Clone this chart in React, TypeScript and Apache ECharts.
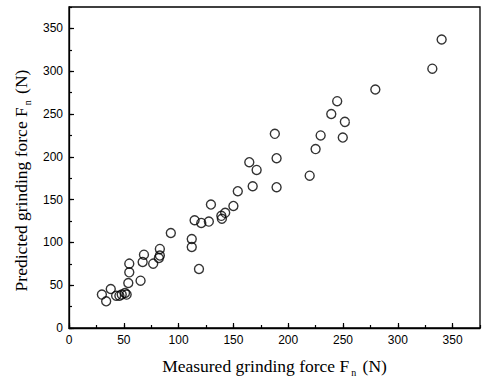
import React, { useEffect, useRef } from "react";
import * as echarts from "echarts";

const measured = [340, 331.5, 279.5, 244.7, 239.3, 251.7, 229.6, 249.8, 225, 219.6, 187.8, 189.4, 189.4, 164.5, 171.2, 167.6, 154, 150, 129.5, 142.5, 139, 139.5, 127.6, 120.7, 114.6, 92.9, 112, 112, 118.6, 82.9, 82.9, 82, 76.8, 68.4, 67.2, 65.3, 55, 55, 54.1, 51.1, 52.6, 48.1, 38.1, 30, 33.9, 43, 46];
const predicted = [337, 303, 278.6, 265, 250, 240.8, 225, 222.5, 209, 178, 226.8, 198.4, 164.5, 193.7, 184.7, 165.6, 159.8, 142.6, 144.2, 134.5, 131, 127.6, 124.3, 122.8, 125.9, 111, 104, 94.7, 69, 92.4, 84.6, 81.8, 75.2, 85.7, 77.2, 55.3, 75.2, 65, 52.6, 40.9, 39, 39, 45.6, 39, 31.2, 37.8, 37.8];

const axisMin = 0;
const axisMax = 375;
const majorStep = 50;
const minorStep = 25;

const xTitle = "{t|Measured grinding force F}{s|n}{t| (N)}";
const yTitle = "{t|Predicted grinding force F}{s|n}{t| (N)}";

export default function App() {
  const ref = useRef<HTMLDivElement>(null);
  useEffect(() => {
    const chart = echarts.init(ref.current!, null, { renderer: "svg" });
    const richStyle = {
      t: { fontFamily: "Liberation Serif", fontSize: 17.5, color: "#000", lineHeight: 22 },
      s: { fontFamily: "Liberation Serif", fontSize: 10, color: "#000", lineHeight: 10, padding: [12, 2, 0, 2] },
    };
    const labelStyle = { fontFamily: "Liberation Sans", fontSize: 12, color: "#000" };
    const mainAxis = (isX: boolean, name: string) => ({
      type: "value",
      min: axisMin,
      max: axisMax,
      interval: majorStep,
      position: isX ? "bottom" : "left",
      name,
      nameLocation: "middle",
      nameGap: isX ? 27 : 36,
      nameTextStyle: { rich: richStyle, padding: isX ? 0 : [0, 26, 0, 0] },
      axisLine: { show: true, onZero: false, lineStyle: { color: "#000", width: 1.3 } },
      axisTick: { show: true, inside: true, length: 5, lineStyle: { color: "#000", width: 1.2 } },
      axisLabel: { ...labelStyle, margin: 6, showMaxLabel: false },
      splitLine: { show: false },
    });
    const minorAxis = (isX: boolean) => ({
      type: "value",
      min: axisMin,
      max: axisMax,
      interval: minorStep,
      position: isX ? "bottom" : "left",
      axisLine: { show: false, onZero: false },
      axisTick: { show: true, inside: true, length: 3, lineStyle: { color: "#000", width: 1.2 } },
      axisLabel: { show: false },
      splitLine: { show: false },
    });
    chart.setOption({
      animation: false,
      backgroundColor: "#fff",
      grid: {
        left: 69,
        top: 7,
        right: 4,
        bottom: 54,
        show: true,
        borderColor: "#000",
        borderWidth: 1.3,
      },
      xAxis: [mainAxis(true, xTitle), minorAxis(true)],
      yAxis: [mainAxis(false, yTitle), minorAxis(false)],
      series: [
        {
          type: "scatter",
          xAxisIndex: 0,
          yAxisIndex: 0,
          symbol: "circle",
          symbolSize: 9,
          itemStyle: { color: "transparent", borderColor: "#000", borderWidth: 1.4 },
          data: measured.map((m, i) => [m, predicted[i]]),
        },
      ],
    });
    return () => chart.dispose();
  }, []);
  return (
    <div
      ref={ref}
      style={{ position: "fixed", left: 0, top: 0, width: 484, height: 382, background: "#fff" }}
    />
  );
}
